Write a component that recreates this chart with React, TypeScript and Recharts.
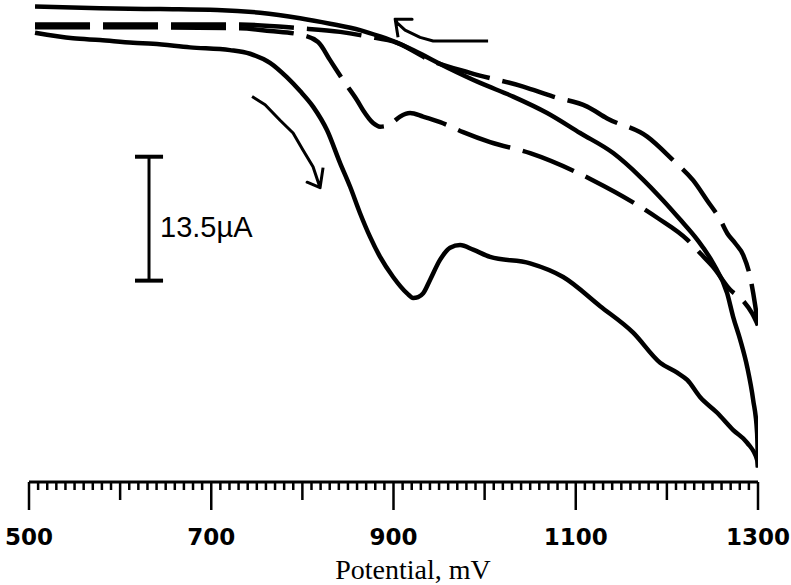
import { Customized, Line, LineChart, ReferenceLine, XAxis, YAxis } from "recharts";

// potential in mV, current in µA (relative, anodic plotted downward)
type Pt = { x: number; y: number };

const solidForward: Pt[] = [
  { x: 506.6, y: -3.6 }, { x: 548.3, y: -4.2 }, { x: 577.9, y: -4.4 }, { x: 614.2, y: -4.7 },
  { x: 636.1, y: -4.8 }, { x: 676.7, y: -5.2 }, { x: 720.6, y: -5.5 }, { x: 742.6, y: -5.9 },
  { x: 764.5, y: -6.9 }, { x: 783.2, y: -8.5 }, { x: 797.5, y: -10.0 }, { x: 811.7, y: -11.7 },
  { x: 827.1, y: -14.3 }, { x: 841.4, y: -17.9 }, { x: 852.4, y: -20.5 }, { x: 863.3, y: -23.4 },
  { x: 874.3, y: -26.0 }, { x: 885.3, y: -28.2 }, { x: 899.6, y: -30.4 }, { x: 914.9, y: -32.2 },
  { x: 921.5, y: -32.7 }, { x: 927.0, y: -32.6 }, { x: 932.5, y: -32.2 }, { x: 940.2, y: -30.7 },
  { x: 951.2, y: -28.5 }, { x: 962.1, y: -27.2 }, { x: 973.1, y: -26.9 }, { x: 987.4, y: -27.4 },
  { x: 1006.0, y: -28.2 }, { x: 1049.9, y: -28.9 }, { x: 1086.2, y: -30.4 }, { x: 1126.8, y: -33.6 },
  { x: 1163.0, y: -36.5 }, { x: 1192.6, y: -39.8 }, { x: 1211.3, y: -40.9 }, { x: 1222.3, y: -41.7 },
  { x: 1236.6, y: -43.6 }, { x: 1255.2, y: -45.3 }, { x: 1272.8, y: -47.2 }, { x: 1288.2, y: -48.6 },
  { x: 1299.1, y: -50.5 }, { x: 1300, y: -51.3 },
];

const solidReverse: Pt[] = [
  { x: 1300, y: -51.3 }, { x: 1299.0, y: -47.5 }, { x: 1294.7, y: -43.9 }, { x: 1288.2, y: -40.3 },
  { x: 1280.5, y: -37.3 }, { x: 1272.8, y: -34.8 }, { x: 1266.2, y: -32.2 }, { x: 1250.8, y: -28.9 },
  { x: 1233.3, y: -26.3 }, { x: 1214.6, y: -24.1 }, { x: 1195.9, y: -22.0 }, { x: 1170.7, y: -19.4 },
  { x: 1141.1, y: -16.8 }, { x: 1104.8, y: -14.6 }, { x: 1068.6, y: -12.4 }, { x: 1031.3, y: -10.6 },
  { x: 995.1, y: -9.1 }, { x: 958.8, y: -7.4 }, { x: 921.5, y: -5.5 }, { x: 901.8, y: -4.6 },
  { x: 885.3, y: -4.0 }, { x: 863.3, y: -3.3 }, { x: 830.4, y: -2.6 }, { x: 797.5, y: -2.0 },
  { x: 753.6, y: -1.4 }, { x: 706.4, y: -1.1 }, { x: 643.8, y: -1.0 }, { x: 577.9, y: -0.9 },
  { x: 506.6, y: -0.7 },
];

const dashedForward: Pt[] = [
  { x: 506.6, y: -3.0 }, { x: 632.8, y: -3.0 }, { x: 731.6, y: -3.1 }, { x: 764.5, y: -3.4 },
  { x: 797.5, y: -3.8 }, { x: 817.2, y: -4.6 }, { x: 830.4, y: -6.6 }, { x: 844.7, y: -8.8 },
  { x: 860.0, y: -11.0 }, { x: 866.6, y: -12.1 }, { x: 877.6, y: -13.5 }, { x: 885.3, y: -13.9 },
  { x: 893.0, y: -13.8 }, { x: 899.6, y: -13.4 }, { x: 907.2, y: -12.8 }, { x: 918.2, y: -12.4 },
  { x: 932.5, y: -12.8 }, { x: 951.2, y: -13.4 }, { x: 976.4, y: -14.5 }, { x: 1006.0, y: -15.6 },
  { x: 1049.9, y: -16.8 }, { x: 1119.1, y: -19.8 }, { x: 1189.4, y: -23.9 }, { x: 1222.3, y: -26.3 },
  { x: 1236.6, y: -27.8 }, { x: 1250.8, y: -29.3 }, { x: 1269.5, y: -31.8 }, { x: 1282.7, y: -32.9 },
  { x: 1293.6, y: -34.4 }, { x: 1300, y: -35.7 },
];

// return sweep, listed from low to high potential so the dashes line up on the left
const dashedReverse: Pt[] = [
  { x: 506.6, y: -2.7 }, { x: 632.8, y: -2.7 }, { x: 731.6, y: -2.7 }, { x: 797.5, y: -3.1 },
  { x: 841.4, y: -3.5 }, { x: 871.0, y: -4.0 }, { x: 904.0, y: -4.7 }, { x: 940.2, y: -6.6 },
  { x: 984.1, y: -8.0 }, { x: 1042.3, y: -9.5 }, { x: 1075.2, y: -10.6 }, { x: 1112.5, y: -11.7 },
  { x: 1134.5, y: -13.0 }, { x: 1178.4, y: -15.0 }, { x: 1206.9, y: -17.6 }, { x: 1228.9, y: -19.8 },
  { x: 1244.2, y: -22.0 }, { x: 1258.5, y: -24.1 }, { x: 1266.2, y: -25.6 }, { x: 1275.0, y: -26.7 },
  { x: 1283.8, y: -28.0 }, { x: 1291.4, y: -30.4 }, { x: 1296.9, y: -33.5 }, { x: 1300, y: -35.7 },
];

// scan direction arrows
const arrowForward: Pt[] = [
  { x: 744.8, y: -10.6 }, { x: 759.1, y: -11.5 }, { x: 775.5, y: -13.2 }, { x: 789.8, y: -14.6 },
  { x: 800.8, y: -16.5 }, { x: 811.7, y: -18.3 }, { x: 819.4, y: -20.6 }, { x: 805.2, y: -20.0 },
  { x: 819.4, y: -20.6 }, { x: 822.7, y: -18.4 },
];
const arrowReverse: Pt[] = [
  { x: 1003.8, y: -4.5 }, { x: 943.5, y: -4.5 }, { x: 929.2, y: -4.1 }, { x: 912.7, y: -3.3 },
  { x: 904.0, y: -2.5 }, { x: 901.8, y: -2.1 }, { x: 920.4, y: -2.1 }, { x: 901.8, y: -2.1 },
  { x: 905.0, y: -4.1 },
];

const labelTicks = [500, 700, 900, 1100, 1300];
const mediumTicks = [600, 800, 1000, 1200];
const allTicks = Array.from({ length: 81 }, (_, i) => 500 + i * 10);

const scaleBarX = 631.7;
const scaleBarTop = -17.2;
const scaleBarBottom = -30.8;
const scaleBarCap = 15.4;
const scaleLabel = "13.5\u00b5A";
const xTitle = "Potential, mV";

function PotentialTick(props: any) {
  const { x, y, payload } = props;
  const v = payload.value as number;
  const big = labelTicks.includes(v);
  const len = big ? 28 : mediumTicks.includes(v) ? 18 : 8;
  return (
    <g>
      <line x1={x} x2={x} y1={y} y2={y + len} stroke="#000" strokeWidth={2.5} />
      {big && (
        <text
          x={x}
          y={y + 63}
          textAnchor="middle"
          fontFamily="'DejaVu Sans', sans-serif"
          fontWeight="bold"
          fontSize={23}
          fill="#000"
        >
          {v}
        </text>
      )}
    </g>
  );
}

function Texts() {
  return (
    <g>
      <text x={160} y={237} fontFamily="'Liberation Sans', Arial, sans-serif" fontSize={29} fill="#000">
        {scaleLabel}
      </text>
      <text
        x={413}
        y={579}
        textAnchor="middle"
        fontFamily="'Liberation Serif', 'Times New Roman', serif"
        fontSize={28}
        fill="#000"
      >
        {xTitle}
      </text>
    </g>
  );
}

export default function App() {
  const common = { dataKey: "y", stroke: "#000", dot: false, isAnimationActive: false } as const;
  return (
    <div style={{ position: "absolute", left: 0, top: 0, width: 791, height: 585, background: "#fff" }}>
      <LineChart width={791} height={585} margin={{ top: 0, right: 33, bottom: 0, left: 29 }}>
        <XAxis
          dataKey="x"
          type="number"
          domain={[500, 1300]}
          ticks={allTicks}
          interval={0}
          tickSize={0}
          tickMargin={0}
          tickLine={false}
          tick={<PotentialTick />}
          axisLine={{ stroke: "#000", strokeWidth: 3 }}
          height={103}
          allowDataOverflow
        />
        <YAxis type="number" domain={[-52.9, 0]} hide allowDataOverflow />
        <Line {...common} data={solidForward} type="monotone" strokeWidth={4.5} strokeLinejoin="round" />
        <Line {...common} data={solidReverse} type="monotone" strokeWidth={4.5} strokeLinejoin="round" />
        <Line {...common} data={dashedForward} type="monotone" strokeWidth={4.5} strokeDasharray="55 13" />
        <Line {...common} data={dashedReverse} type="monotone" strokeWidth={4.5} strokeDasharray="55 13" />
        <Line {...common} data={arrowForward} type="linear" strokeWidth={3} strokeLinejoin="round" />
        <Line {...common} data={arrowReverse} type="linear" strokeWidth={3} strokeLinejoin="round" />
        <ReferenceLine
          segment={[{ x: scaleBarX, y: scaleBarTop }, { x: scaleBarX, y: scaleBarBottom }]}
          stroke="#000"
          strokeWidth={3}
        />
        <ReferenceLine
          segment={[{ x: scaleBarX - scaleBarCap, y: scaleBarTop }, { x: scaleBarX + scaleBarCap, y: scaleBarTop }]}
          stroke="#000"
          strokeWidth={4}
        />
        <ReferenceLine
          segment={[{ x: scaleBarX - scaleBarCap, y: scaleBarBottom }, { x: scaleBarX + scaleBarCap, y: scaleBarBottom }]}
          stroke="#000"
          strokeWidth={4}
        />
        <Customized component={<Texts />} />
      </LineChart>
    </div>
  );
}
